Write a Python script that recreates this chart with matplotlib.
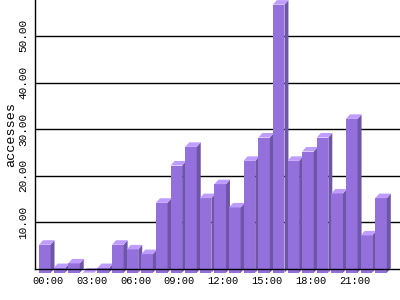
import matplotlib
matplotlib.use("Agg")
import matplotlib.pyplot as plt
from matplotlib.patches import Polygon

# accesses per hour of the day
hours = list(range(24))
accesses = [6, 1, 2, 0, 1, 6, 5, 4, 15, 23, 27, 16,
            19, 14, 24, 29, 57.5, 24, 26, 29, 17, 33, 8, 16]
tick_pos = [0, 3, 6, 9, 12, 15, 18, 21]
tick_labels = ["00:00", "03:00", "06:00", "09:00",
               "12:00", "15:00", "18:00", "21:00"]
y_ticks = [10, 20, 30, 40, 50]

front = "#9370db"
side = "#6e55a8"
top = "#bf9cff"

width = 0.79   # front face width
dx = 0.27      # depth offset in x
dy = 0.97      # depth offset in y
base = -0.8    # front face sits a bit below the axis

plt.rcParams['font.family'] = ['Liberation Mono', 'DejaVu Sans Mono']

fig = plt.figure(figsize=(4, 3), dpi=100)
ax = fig.add_axes([35 / 400, 31 / 300, 365 / 400, 269 / 300])

for i, (h, v) in enumerate(zip(hours, accesses)):
    z = 2 + i * 0.01
    ax.bar(h, v, bottom=base, width=width, align='edge', color=front,
           linewidth=0, clip_on=False, zorder=z)
    t = base + v
    ax.add_patch(Polygon([(h + width, base), (h + width + dx, base + dy),
                          (h + width + dx, t + dy), (h + width, t)],
                         closed=True, color=side, lw=0, clip_on=False, zorder=z))
    ax.add_patch(Polygon([(h, t), (h + dx, t + dy),
                          (h + width + dx, t + dy), (h + width, t)],
                         closed=True, color=top, lw=0, clip_on=False, zorder=z))

ax.set_xlim(-0.274, 24.69)
ax.set_ylim(0, 57.7)

ax.set_yticks(y_ticks)
ax.set_yticklabels([f"{y:.2f}" for y in y_ticks], rotation=90, va='center',
                   fontsize=8)
ax.set_xticks([p + 0.6 for p in tick_pos])
ax.set_xticklabels(tick_labels, fontsize=7.5)
ax.tick_params(axis='both', length=0)
ax.tick_params(axis='y', pad=5)
ax.tick_params(axis='x', pad=5)

ax.yaxis.grid(True, color='black', linewidth=1.0)
ax.set_axisbelow(True)
for s in ['top', 'right']:
    ax.spines[s].set_visible(False)
for s in ['left', 'bottom']:
    ax.spines[s].set_linewidth(1.0)
    ax.spines[s].set_zorder(5)

ax.set_ylabel("accesses", fontsize=9.7, labelpad=1)

fig.savefig("out.png", dpi=100)
